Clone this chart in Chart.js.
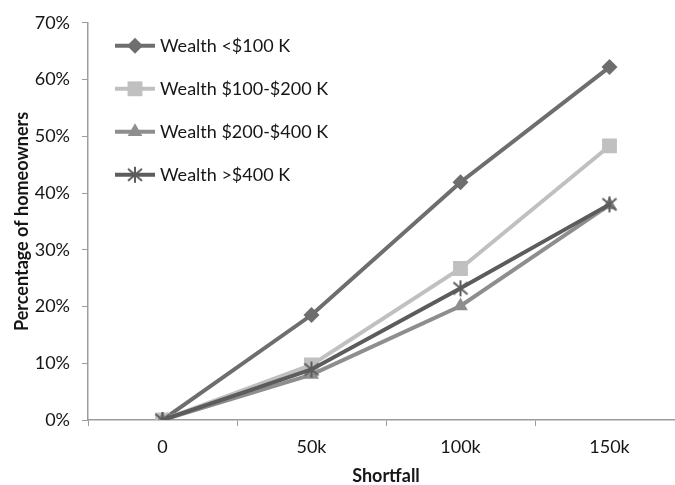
<!DOCTYPE html>
<html>
<head>
<meta charset="utf-8">
<script src="https://cdn.jsdelivr.net/npm/chart.js@4/dist/chart.umd.min.js"></script>
<style>
  html, body { margin: 0; padding: 0; background: #fff; width: 675px; height: 485px; overflow: hidden; }
  canvas { display: block; }
</style>
</head>
<body>
<canvas id="chart" width="700" height="485"></canvas>
<script>
// Shortfall categories and share of homeowners (%) by wealth band
const shortfallLabels = ['0', '50k', '100k', '150k'];
const seriesNames = ['Wealth <$100 K', 'Wealth $100-$200 K', 'Wealth $200-$400 K', 'Wealth >$400 K'];
const wealthUnder100 = [0, 18.5, 41.9, 62.2];
const wealth100to200 = [0, 9.7, 26.7, 48.3];
const wealth200to400 = [0, 8.0, 20.1, 37.9];
const wealthOver400 = [0, 8.9, 23.2, 38.0];
const yTickValues = [0, 10, 20, 30, 40, 50, 60, 70];

const FONT = 'Lato';
const AXIS_GREY = '#9c9c9c';
const TEXT = '#161616';

// Asterisk marker: vertical stroke plus an X
function makeAsterisk(color) {
  const c = document.createElement('canvas');
  c.width = 18; c.height = 18;
  const g = c.getContext('2d');
  g.strokeStyle = color;
  g.lineWidth = 2;
  g.beginPath();
  g.moveTo(9, 1); g.lineTo(9, 17);
  g.moveTo(2, 3); g.lineTo(16, 15);
  g.moveTo(16, 3); g.lineTo(2, 15);
  g.stroke();
  return c;
}

const styles = [
  { color: '#6e6e6e', point: 'rectRot', radius: 8 },
  { color: '#c0c0c0', point: 'rect', radius: 10.5 },
  { color: '#8e8e8e', point: 'triangle', radius: 8.5 },
  { color: '#5c5c5c', point: makeAsterisk('#5c5c5c'), radius: 8 }
];
const seriesValues = [wealthUnder100, wealth100to200, wealth200to400, wealthOver400];

const datasets = seriesValues.map((vals, i) => ({
  label: seriesNames[i],
  data: vals,
  borderColor: styles[i].color,
  backgroundColor: styles[i].color,
  borderWidth: 4,
  pointStyle: styles[i].point,
  pointRadius: styles[i].radius,
  pointBorderWidth: 0,
  pointBackgroundColor: styles[i].color,
  tension: 0,
  order: seriesValues.length - i
}));

// Legend drawn inside the plot, top-left
const insideLegend = {
  id: 'insideLegend',
  afterDraw(chart) {
    const ctx = chart.ctx;
    const left = chart.chartArea.left;
    const top = chart.chartArea.top;
    ctx.save();
    chart.data.datasets.forEach((ds, i) => {
      const y = top + 23 + i * 43;
      const x0 = left + 27, x1 = left + 67;
      ctx.strokeStyle = ds.borderColor;
      ctx.lineWidth = 4;
      ctx.beginPath();
      ctx.moveTo(x0, y); ctx.lineTo(x1, y);
      ctx.stroke();
      ctx.fillStyle = ds.borderColor;
      ctx.strokeStyle = ds.borderColor;
      Chart.helpers.drawPoint(ctx, {
        pointStyle: ds.pointStyle,
        radius: ds.pointRadius,
        rotation: 0,
        borderWidth: 0
      }, (x0 + x1) / 2, y);
      ctx.fillStyle = TEXT;
      ctx.font = '18px ' + FONT;
      ctx.textBaseline = 'middle';
      ctx.textAlign = 'left';
      ctx.fillText(ds.label, x1 + 5, y);
    });
    ctx.restore();
  }
};

new Chart(document.getElementById('chart'), {
  type: 'line',
  data: { labels: shortfallLabels, datasets },
  options: {
    responsive: false,
    animation: false,
    devicePixelRatio: 1,
    layout: { padding: { left: 0, right: 16, top: 20, bottom: 0 } },
    plugins: { legend: { display: false }, tooltip: { enabled: false } },
    scales: {
      x: {
        type: 'category',
        offset: true,
        afterFit(scale) { scale.height = 65; },
        grid: { drawOnChartArea: false, drawTicks: true, tickLength: 6, color: AXIS_GREY, offset: true, lineWidth: 1 },
        border: { color: AXIS_GREY, width: 1.5 },
        ticks: { font: { family: FONT, size: 18 }, color: TEXT, padding: 10, maxRotation: 0 },
        title: {
          display: true, text: 'Shortfall', color: TEXT,
          font: { family: FONT, size: 18, weight: 'bold', lineHeight: 1 },
          padding: { top: 0, bottom: 0 }
        }
      },
      y: {
        min: 0, max: 70,
        afterFit(scale) { scale.width = 88; },
        afterBuildTicks(scale) { scale.ticks = yTickValues.map(v => ({ value: v })); },
        grid: { drawOnChartArea: false, drawTicks: true, tickLength: 6, color: AXIS_GREY, lineWidth: 1 },
        border: { color: AXIS_GREY, width: 1.5 },
        ticks: { font: { family: FONT, size: 18 }, color: TEXT, padding: 12, callback: v => v + '%' },
        title: {
          display: true, text: 'Percentage of homeowners', color: TEXT,
          font: { family: FONT, size: 18, weight: 'bold', lineHeight: 1.2 },
          padding: { top: 11, bottom: 0 }
        }
      }
    }
  },
  plugins: [insideLegend]
});
</script>
</body>
</html>
